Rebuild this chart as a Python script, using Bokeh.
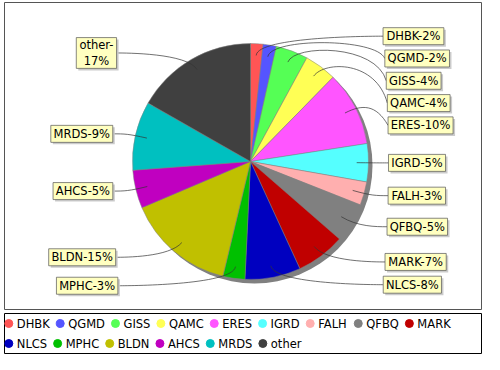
import math
from bokeh.plotting import figure
from bokeh.models import Range1d, ColumnDataSource
from bokeh.core.properties import value
from bokeh.embed import file_html
from bokeh.resources import INLINE

# ---------------- data ----------------
names = ["DHBK", "QGMD", "GISS", "QAMC", "ERES", "IGRD", "FALH", "QFBQ",
         "MARK", "NLCS", "MPHC", "BLDN", "AHCS", "MRDS", "other"]
shares = [1.7, 1.8, 4.4, 4.4, 10.2, 5.2, 3.2, 5.4,
          6.7, 7.6, 3.0, 14.8, 5.2, 9.4, 16.7]
colors = ["#FF5555", "#5555FF", "#55FF55", "#FFFF55", "#FF55FF", "#55FFFF",
          "#FFAFAF", "#808080", "#C00000", "#0000C0", "#00C000", "#C0C000",
          "#C000C0", "#00C0C0", "#404040"]
wrapped_labels = ["other"]

# ---------------- layout / style ----------------
FONT = "DejaVu Sans"
FS = 11.5
ADV = {'A': 1401, 'B': 1405, 'C': 1430, 'D': 1577, 'E': 1294, 'F': 1178, 'G': 1587,
       'H': 1540, 'I': 604, 'K': 1343, 'L': 1141, 'M': 1767, 'N': 1532, 'O': 1612,
       'P': 1235, 'Q': 1612, 'R': 1423, 'S': 1300, 'T': 1251,
       'e': 1260, 'h': 1298, 'o': 1253, 'r': 842, 't': 803,
       '%': 1946, '-': 739, ' ': 651}
for d in "0123456789":
    ADV[d] = 1303


def tw(s):
    return sum(ADV.get(c, 1300) for c in s) * FS / 2048.0


CX, CY, R = 250.0, 161.0, 118.0
LINK_IN = 0.9
R_LINK = 125.5
LBL_R = 138.0
LBL_E = 450.0
PAD = 2.75
LINE_H = FS * 1.2
GAP = 5.3
SHADOW = 4.0

W, H = 484, 354
p = figure(width=W, height=H, x_range=Range1d(0, W), y_range=Range1d(-H, 0),
           output_backend="svg", toolbar_location=None, min_border=0,
           x_axis_type=None, y_axis_type=None)
p.grid.visible = False
p.outline_line_color = None
p.background_fill_color = "white"
p.border_fill_color = "white"

# plot-area border
p.quad(left=[4], right=[481], top=[-2], bottom=[-309], fill_color=None,
       line_color="#555555", line_width=1)

# ---------------- pie ----------------
total = float(sum(shares))
fr = [v / total for v in shares]
cum = [0.0]
for f in fr:
    cum.append(cum[-1] + f)

starts = [math.pi / 2 - 2 * math.pi * cum[i + 1] for i in range(len(fr))]
ends = [math.pi / 2 - 2 * math.pi * cum[i] for i in range(len(fr))]

p.circle(x=[CX + SHADOW], y=[-(CY + SHADOW)], radius=R, fill_color="#808080",
         line_color=None)
pie_src = ColumnDataSource(dict(x=[CX] * len(fr), y=[-CY] * len(fr), start=starts,
                                end=ends, color=colors, name=names))
p.wedge(x="x", y="y", radius=R, start_angle="start", end_angle="end",
        direction="anticlock", fill_color="color", line_color="#808080",
        line_width=0.5, source=pie_src)

# ---------------- labels ----------------
recs = []
for i, n in enumerate(names):
    pct = int(round(100 * fr[i]))
    txt = f"{n}-\n{pct}%" if n in wrapped_labels else f"{n}-{pct}%"
    lines = txt.split("\n")
    w = max(tw(l) for l in lines) + 2 * PAD
    h = len(lines) * LINE_H + 3.2
    phi = 2 * math.pi * (cum[i] + cum[i + 1]) / 2
    side = 1 if math.sin(phi) >= 0 else -1
    ny = CY - R_LINK * math.cos(phi)
    recs.append(dict(txt=txt, w=w, h=h, phi=phi, side=side, ny=ny))

for side in (1, -1):
    group = sorted([r for r in recs if r["side"] == side], key=lambda r: r["ny"])
    prev = None
    for r in group:
        y = r["ny"]
        if prev is not None:
            y = max(y, prev["y"] + prev["h"] / 2 + r["h"] / 2 + GAP)
        r["y"] = y
        prev = r

bx0, bx1, by0, by1, tx, ty, tt = [], [], [], [], [], [], []
cxs0, cys0, cxs1, cys1, c0x, c0y, c1x, c1y = [], [], [], [], [], [], [], []
for r in recs:
    dy = r["y"] - CY
    off = LBL_R * math.sqrt(max(0.0, 1 - (dy / LBL_E) ** 2))
    if r["side"] > 0:
        x0 = CX + off
        x1 = x0 + r["w"]
        target = x0
    else:
        x1 = CX - off
        x0 = x1 - r["w"]
        target = x1
    bx0.append(x0); bx1.append(x1)
    by0.append(-(r["y"] - r["h"] / 2)); by1.append(-(r["y"] + r["h"] / 2))
    tx.append((x0 + x1) / 2); ty.append(-r["y"]); tt.append(r["txt"])
    s, c = math.sin(r["phi"]), math.cos(r["phi"])
    lx, ly = CX + s * R * LINK_IN, CY - c * R * LINK_IN
    ex, ey = CX + s * R_LINK, CY - c * R_LINK
    ax = CX + r["side"] * R_LINK
    cxs0.append(lx); cys0.append(-ly)
    cxs1.append(target); cys1.append(-r["y"])
    c0x.append(ex); c0y.append(-ey)
    c1x.append(ax); c1y.append(-ey)

p.bezier(x0=cxs0, y0=cys0, x1=cxs1, y1=cys1, cx0=c0x, cy0=c0y, cx1=c1x, cy1=c1y,
         line_color="#333333", line_width=0.7)

p.quad(left=[v + 2 for v in bx0], right=[v + 2 for v in bx1],
       top=[v - 2 for v in by0], bottom=[v - 2 for v in by1],
       fill_color="#CBCBCB", line_color=None)
p.quad(left=bx0, right=bx1, top=by0, bottom=by1, fill_color="#FFFFC0",
       line_color="#555555", line_width=0.7)
p.text(x=tx, y=ty, text=tt, text_font=value(FONT), text_font_size=f"{FS}px",
       text_align="center", text_baseline="middle", text_color="black",
       text_line_height=1.2)

# ---------------- legend ----------------
LEG_L, LEG_R, LEG_T, LEG_B = 4, 481, 313, 353
p.quad(left=[LEG_L], right=[LEG_R], top=[-LEG_T], bottom=[-LEG_B], fill_color="white",
       line_color="black", line_width=1)
lg_x, lg_y, lt_x = [], [], []
x = LEG_L + 4.3
row_y = LEG_T + 10
for n in names:
    need = 8 + tw(n)
    if x + need > LEG_R - 2:
        x = LEG_L + 4.3
        row_y += 20
    lg_x.append(x); lg_y.append(-row_y); lt_x.append(x + 8)
    x += 8 + tw(n) + 10.5

p.scatter(x=lg_x, y=lg_y, marker="circle", size=8, fill_color=colors,
          line_color=colors)
p.text(x=lt_x, y=lg_y, text=names, text_font=value(FONT), text_font_size=f"{FS}px",
       text_align="left", text_baseline="middle", text_color="black")

open("out.html", "w").write(file_html(p, INLINE))
